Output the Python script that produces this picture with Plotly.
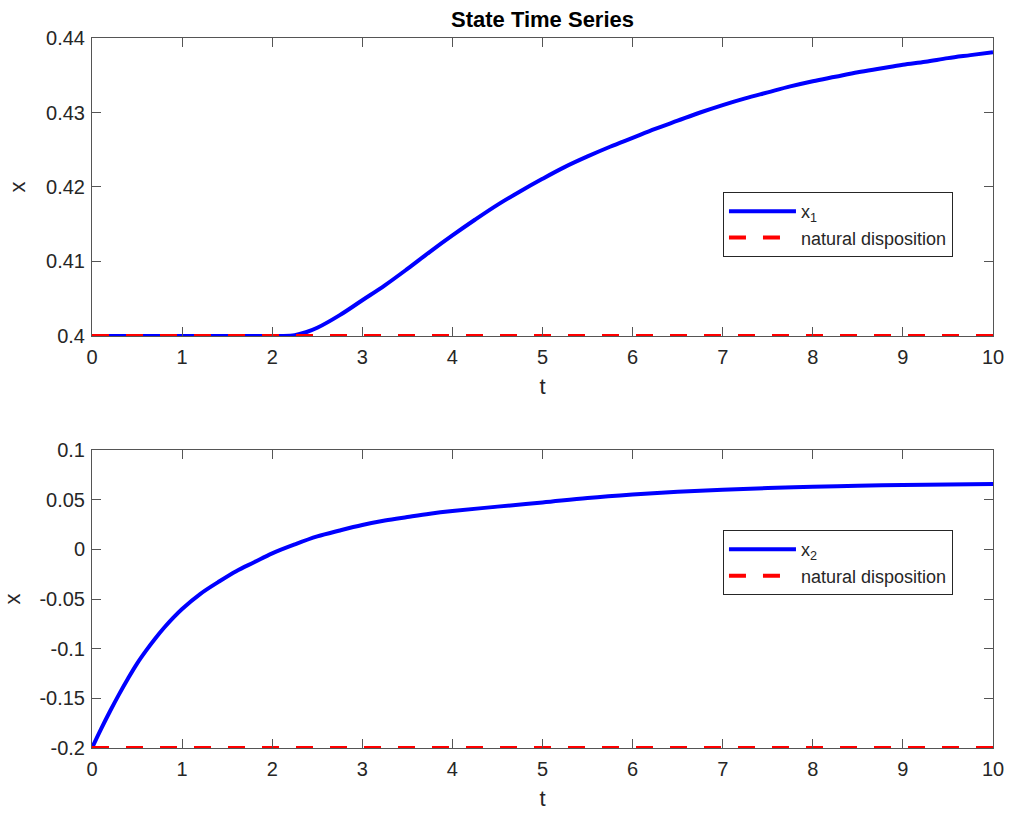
import plotly.graph_objects as go

# ---- data ----
t1 = [0, 1, 2, 2.1, 2.25, 2.375, 2.5, 2.75, 3.0, 3.25, 3.5, 3.75, 4.0, 4.25, 4.5, 4.75, 5.0,
      5.25, 5.5, 5.75, 6.0, 6.25, 6.5, 6.75, 7.0, 7.25, 7.5, 7.75, 8.0, 8.25, 8.5, 8.75,
      9.0, 9.25, 9.5, 9.75, 10.0]
x1 = [0.4, 0.4, 0.4, 0.4, 0.4001, 0.4005, 0.4011, 0.4028, 0.4048, 0.4068, 0.4090, 0.4113,
      0.4135, 0.4156, 0.4176, 0.4194, 0.4211, 0.4227, 0.4241, 0.4254, 0.4266, 0.4278,
      0.4289, 0.4300, 0.4310, 0.4319, 0.4327, 0.4335, 0.4342, 0.4348, 0.4354, 0.4359,
      0.4364, 0.4368, 0.4373, 0.4377, 0.4381]
t2 = [0, 0.1, 0.2, 0.3, 0.4, 0.5, 0.6, 0.7, 0.8, 0.9, 1.0, 1.2, 1.4, 1.6, 1.8, 2.0, 2.25,
      2.5, 2.75, 3.0, 3.25, 3.5, 3.75, 4.0, 4.5, 5.0, 5.5, 6.0, 6.5, 7.0, 7.5, 8.0, 8.5,
      9.0, 9.5, 10.0]
x2 = [-0.200, -0.181, -0.163, -0.146, -0.130, -0.115, -0.102, -0.090, -0.079, -0.069,
      -0.060, -0.045, -0.033, -0.022, -0.013, -0.004, 0.005, 0.013, 0.019, 0.0245, 0.029,
      0.0325, 0.0358, 0.0385, 0.0430, 0.0472, 0.0518, 0.0553, 0.0580, 0.0600, 0.0617,
      0.0630, 0.0640, 0.0648, 0.0653, 0.0658]
t_nat = [0, 10]
nat1 = [0.4, 0.4]
nat2 = [-0.2, -0.2]

x_ticks = [0, 1, 2, 3, 4, 5, 6, 7, 8, 9, 10]
y1_ticks = [0.40, 0.41, 0.42, 0.43, 0.44]
y1_labels = ["0.4", "0.41", "0.42", "0.43", "0.44"]
y2_ticks = [-0.2, -0.15, -0.1, -0.05, 0, 0.05, 0.1]
y2_labels = ["-0.2", "-0.15", "-0.1", "-0.05", "0", "0.05", "0.1"]

FONT = "Liberation Sans, Arial, Helvetica, sans-serif"
TXT = "#262626"
AX = "#555555"

fig = go.Figure()
fig.add_trace(go.Scatter(x=t1, y=x1, mode="lines", line=dict(color="#0000ff", width=4, shape="spline", smoothing=1),
                         name="x<sub>1</sub>", xaxis="x", yaxis="y", legend="legend"))
fig.add_trace(go.Scatter(x=t_nat, y=nat1, mode="lines", line=dict(color="#ff0000", width=4, dash="17px,17px"),
                         name="natural disposition", xaxis="x", yaxis="y", legend="legend"))
fig.add_trace(go.Scatter(x=t2, y=x2, mode="lines", line=dict(color="#0000ff", width=4, shape="spline", smoothing=1),
                         name="x<sub>2</sub>", xaxis="x2", yaxis="y2", legend="legend2"))
fig.add_trace(go.Scatter(x=t_nat, y=nat2, mode="lines", line=dict(color="#ff0000", width=4, dash="17px,17px"),
                         name="natural disposition", xaxis="x2", yaxis="y2", legend="legend2"))

def xax(anchor):
    return dict(range=[0, 10], tickvals=x_ticks, ticks="inside", ticklen=9, tickcolor=AX,
                showline=True, linecolor=AX, linewidth=1, mirror="ticks", showgrid=False, zeroline=False,
                tickfont=dict(family=FONT, size=20, color=TXT), anchor=anchor, ticklabelstandoff=3,
                title=dict(text="t", font=dict(family=FONT, size=22, color=TXT), standoff=11))

def yax(anchor, dom, rng, tv, tt):
    return dict(range=rng, tickvals=tv, ticktext=tt, ticks="inside", ticklen=9, tickcolor=AX,
                showline=True, linecolor=AX, linewidth=1, mirror="ticks", showgrid=False, zeroline=False,
                tickfont=dict(family=FONT, size=20, color=TXT), anchor=anchor, domain=dom,
                ticklabelstandoff=2,
                title=dict(text="x", font=dict(family=FONT, size=22, color=TXT), standoff=14))

legstyle = dict(bgcolor="white", bordercolor=TXT, borderwidth=1, xanchor="left", yanchor="top",
                font=dict(family=FONT, size=18, color=TXT), tracegroupgap=0, itemwidth=67,
                entrywidth=158, entrywidthmode="pixels")

fig.update_layout(
    width=1009, height=815,
    margin=dict(l=92, r=16, t=38, b=67, autoexpand=False),
    paper_bgcolor="white", plot_bgcolor="white",
    title=dict(text="<b>State Time Series</b>", x=(92 + 993) / 2 / 1009, xanchor="center",
               y=1 - 19 / 815, yanchor="middle", font=dict(family=FONT, size=22, color="#000000")),
    xaxis=xax("y"),
    yaxis=yax("x", [0.5803, 1.0], [0.4, 0.44], y1_ticks, y1_labels),
    xaxis2=xax("y2"),
    yaxis2=yax("x2", [0.0, 0.4197], [-0.2, 0.1], y2_ticks, y2_labels),
    legend=dict(x=0.7003, y=0.7831, **legstyle),
    legend2=dict(x=0.7003, y=0.307, **legstyle),
    showlegend=True,
)

fig.write_html("out.html", config={"displayModeBar": False},
               post_script="document.body.style.margin='0';document.body.style.padding='0';")
